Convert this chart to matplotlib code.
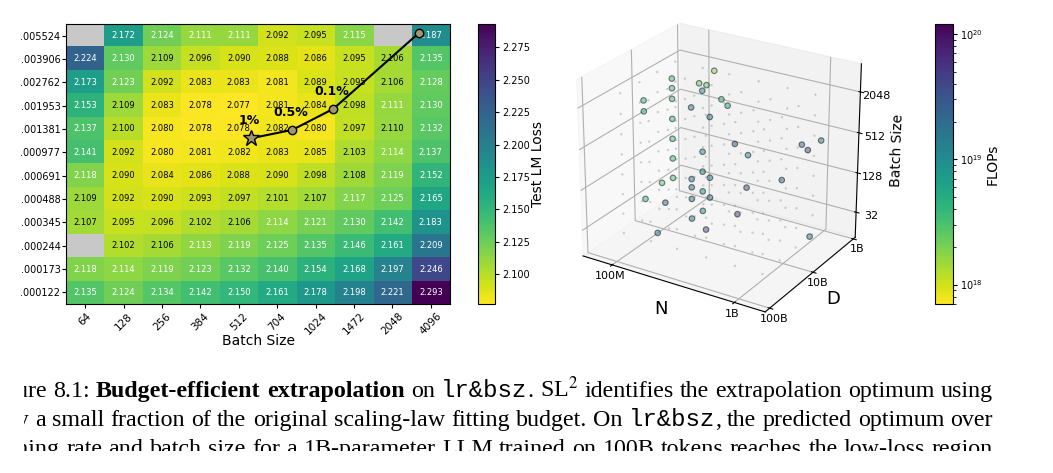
import numpy as np
import matplotlib
matplotlib.use("Agg")
import matplotlib.pyplot as plt
from matplotlib.colors import LogNorm
from matplotlib.cm import ScalarMappable
from matplotlib.patches import Rectangle

W, H = 1053, 473
plt.rcParams["mathtext.fontset"] = "stix"

# learning-rate x batch-size sweep, test LM loss
lr_values = [0.005524, 0.003906, 0.002762, 0.001953, 0.001381, 0.000977,
             0.000691, 0.000488, 0.000345, 0.000244, 0.000173, 0.000122]
lr_labels = [".005524", ".003906", ".002762", ".001953", ".001381", ".000977",
             ".000691", ".000488", ".000345", ".000244", ".000173", ".000122"]
bsz_values = [64, 128, 256, 384, 512, 704, 1024, 1472, 2048, 4096]
nan = np.nan
loss_rows = [
    [nan, 2.172, 2.124, 2.111, 2.111, 2.092, 2.095, 2.115, nan, 2.187],
    [2.224, 2.130, 2.109, 2.096, 2.090, 2.088, 2.086, 2.095, 2.106, 2.135],
    [2.173, 2.123, 2.092, 2.083, 2.083, 2.081, 2.089, 2.095, 2.106, 2.128],
    [2.153, 2.109, 2.083, 2.078, 2.077, 2.081, 2.084, 2.098, 2.111, 2.130],
    [2.137, 2.100, 2.080, 2.078, 2.078, 2.082, 2.080, 2.097, 2.110, 2.132],
    [2.141, 2.092, 2.080, 2.081, 2.082, 2.083, 2.085, 2.103, 2.114, 2.137],
    [2.118, 2.090, 2.084, 2.086, 2.088, 2.090, 2.098, 2.108, 2.119, 2.152],
    [2.109, 2.092, 2.090, 2.093, 2.097, 2.101, 2.107, 2.117, 2.125, 2.165],
    [2.107, 2.095, 2.096, 2.102, 2.106, 2.114, 2.121, 2.130, 2.142, 2.183],
    [nan, 2.102, 2.106, 2.113, 2.119, 2.125, 2.135, 2.146, 2.161, 2.209],
    [2.118, 2.114, 2.119, 2.123, 2.132, 2.140, 2.154, 2.168, 2.197, 2.246],
    [2.135, 2.124, 2.134, 2.142, 2.150, 2.161, 2.178, 2.198, 2.221, 2.293],
]

# predicted optimum for growing fractions of the fitting budget
path_bsz = [565, 815, 1210, 3330]
path_lr = [0.001202, 0.001362, 0.001861, 0.00578]
path_labels = ["1%", "0.5%", "0.1%", ""]

# all runs of the sweep (N params, D tokens, batch size)
grid_N = [70e6, 120e6, 200e6, 350e6, 600e6, 1.0e9]
grid_D = [2e9, 5e9, 12e9, 30e9]
grid_B = [16, 32, 64, 128, 256, 512, 1024, 2048]

# runs picked for the budget-efficient fit
sel_N = [100e6, 100e6, 100e6, 100e6, 100e6, 100e6, 100e6,
         70e6, 70e6, 70e6, 112e6, 80e6,
         200e6, 200e6, 200e6, 200e6, 200e6,
         200e6, 200e6, 200e6, 200e6, 200e6,
         250e6, 250e6, 250e6,
         150e6, 150e6, 200e6, 250e6, 130e6,
         1.2e9, 1.0e9, 1.0e9, 1.2e9, 700e6, 500e6, 500e6, 400e6, 400e6,
         300e6, 150e6]
sel_D = [6e9, 6e9, 6e9, 6e9, 6e9, 6e9, 6e9,
         10e9, 10e9, 10e9, 18e9, 6e9,
         14e9, 14e9, 14e9, 14e9, 14e9,
         8e9, 8e9, 8e9, 8e9, 8e9,
         10e9, 10e9, 10e9,
         2e9, 3e9, 3e9, 4e9, 3e9,
         2.4e9, 2.3e9, 4e9, 5e9, 4e9, 10e9, 16e9, 5e9, 10e9,
         20e9, 25e9]
sel_B = [2048, 1472, 1024, 512, 256, 128, 64,
         1024, 704, 32, 16, 48,
         1472, 128, 96, 64, 32,
         2048, 256, 128, 64, 32,
         1024, 128, 64,
         2048, 1472, 1024, 1024, 1472,
         512, 16, 512, 512, 128, 128, 64, 256, 512,
         32, 64]

loss = np.ma.masked_invalid(np.array(loss_rows))
fig = plt.figure(figsize=(W / 100, H / 100), dpi=100)


def fbox(x0, y0, x1, y1):
    # pixel box (from top-left) -> figure fraction rect
    return [x0 / W, 1 - y1 / H, (x1 - x0) / W, (y1 - y0) / H]


# ---------------- heatmap ----------------
ax = fig.add_axes(fbox(66, 24, 450, 304))
ax.set_facecolor("#c8c8c8")
vmin, vmax = loss.min(), loss.max()
im = ax.imshow(loss, cmap="viridis_r", vmin=vmin, vmax=vmax, aspect="auto",
               interpolation="nearest")
for i in range(loss.shape[0]):
    for j in range(loss.shape[1]):
        v = loss_rows[i][j]
        if np.isnan(v):
            continue
        ax.text(j, i, f"{v:.3f}", ha="center", va="center", fontsize=6,
                color="white" if v > 2.1105 else "black")
ax.set_xticks(range(len(bsz_values)))
ax.set_xticklabels([str(b) for b in bsz_values], rotation=45, fontsize=7.5)
ax.set_yticks(range(len(lr_values)))
ax.set_yticklabels(lr_labels, fontsize=7)
ax.tick_params(axis="y", length=3, pad=1)
ax.tick_params(axis="x", length=3, pad=2)
ax.set_xlabel("Batch Size", fontsize=10, labelpad=-2)

# budget path, mapped onto the cell grid
px = np.interp(np.log2(path_bsz), np.log2(bsz_values), np.arange(len(bsz_values)))
py = np.log(lr_values[0] / np.array(path_lr)) / np.log(lr_values[0] / lr_values[1])
ax.plot(px, py, color="black", lw=1.5, zorder=3)
ax.plot(px[1:], py[1:], "o", ms=6, mfc="#a4976f", mec="black", mew=1, zorder=4)
ax.plot(px[:1], py[:1], "*", ms=12, mfc="#a4976f", mec="black", mew=1, zorder=4)
for x, y, lab in zip(px, py, path_labels):
    if lab:
        ax.annotate(lab, (x, y), xytext=(-1, 8), textcoords="offset points",
                    ha="center", va="bottom", fontsize=9, fontweight="bold")
ax.set_xlim(-0.5, len(bsz_values) - 0.5)
ax.set_ylim(len(lr_values) - 0.5, -0.5)

cax = fig.add_axes(fbox(478, 24, 495, 304))
cb = fig.colorbar(im, cax=cax)
cb.set_ticks(np.arange(2.100, 2.2751, 0.025))
cb.ax.set_yticklabels([f"{t:.3f}" for t in np.arange(2.100, 2.2751, 0.025)])
cb.ax.tick_params(labelsize=7, length=3, pad=2)
cb.set_label("Test LM Loss", fontsize=10, labelpad=1)

# ---------------- 3D scatter ----------------
ax3 = fig.add_axes([0.514, 0.30, 0.332, 0.70], projection="3d")
ax3.view_init(elev=25, azim=-58)
ax3.set_box_aspect((4, 3.4, 3.6))
gN, gD, gB = np.meshgrid(grid_N, grid_D, grid_B, indexing="ij")
ax3.scatter(np.log10(gN.ravel()), np.log10(gD.ravel()), np.log2(gB.ravel()),
            s=3, c="gray", alpha=0.35, linewidths=0)
norm = LogNorm(vmin=7e17, vmax=1.2e20)
flops = 6 * np.array(sel_N) * np.array(sel_D)
ax3.scatter(np.log10(sel_N), np.log10(sel_D), np.log2(sel_B), c=flops,
            cmap="viridis_r", norm=norm, s=16, edgecolors="black",
            linewidths=0.8, alpha=0.5)
ax3.set_xlim(7.75, 9.24)
ax3.set_ylim(11.1, 8.95)
ax3.set_zlim(3.7, 12.35)
ax3.set_xticks([8, 9])
ax3.set_xticklabels(["100M", "1B"])
ax3.set_yticks([9, 10, 11])
ax3.set_yticklabels(["1B", "10B", "100B"])
ax3.set_zticks([5, 7, 9, 11])
ax3.set_zticklabels(["32", "128", "512", "2048"])
ax3.tick_params(axis="x", labelsize=8, pad=-5)
ax3.tick_params(axis="y", labelsize=8, pad=-5)
ax3.tick_params(axis="z", labelsize=8, pad=-1)
ax3.set_xlabel("N", fontsize=13, labelpad=-8)
ax3.set_ylabel("D", fontsize=13, labelpad=-7)
ax3.set_zlabel("Batch Size", fontsize=10, labelpad=-3)

cax2 = fig.add_axes(fbox(935, 24, 953, 304))
cb2 = fig.colorbar(ScalarMappable(norm=norm, cmap="viridis_r"), cax=cax2)
cb2.ax.tick_params(labelsize=7, length=3, pad=2)
cb2.set_label("FLOPs", fontsize=10, labelpad=2)

# ---------------- caption (cropped page) ----------------
SERIF = "Liberation Serif"
MONO = "Liberation Mono"
cap_lines = [
    ([("Figure 8.1:", "r"), ("Budget-efficient extrapolation", "b"),
      ("on", "r"), ("lr&bsz", "m"), ("+.", "r"),
      ("SL$^2$ identifies the extrapolation optimum using", "r")],
     "Figu", 28, 993, 397),
    ([("only a small fraction of the original scaling-law fitting budget. On", "r"),
      ("lr&bsz", "m"), ("+, the predicted optimum over", "r")],
     "only ", 35, 993, 426),
    ([("learning rate and batch size for a 1B-parameter LLM trained on 100B tokens "
       "reaches the low-loss region", "r")],
     "learn", 29, 993, 455),
]
fig.canvas.draw()
rend = fig.canvas.get_renderer()


def style(kind, size):
    if kind == "b":
        return dict(family=SERIF, size=size, weight="bold")
    if kind == "m":
        return dict(family=MONO, size=size)
    return dict(family=SERIF, size=size)


def width_of(s, kw):
    t = fig.text(0, 0, s, **kw)
    w = t.get_window_extent(rend).width
    t.remove()
    return w


def tokens_of(pieces):
    out = []
    for text, kind in pieces:
        glue = text.startswith("+")
        for k, word in enumerate(text.lstrip("+").split(" ")):
            out.append((word, kind, glue and k == 0))
    return out


# font size chosen so the first line fills its measure with normal spacing
base = 10.0
toks = tokens_of(cap_lines[0][0])
sp = width_of("a a", style("r", base)) - width_of("aa", style("r", base))
nat = sum(width_of(w, style(k, base)) for w, k, _ in toks)
ngap = sum(1 for i, t in enumerate(toks) if i > 0 and not t[2])
hid = width_of("Figu", style("r", base))
cap_size = base * (993 - 29) / (nat + ngap * sp - hid)

for pieces, hidden, x_vis, x_end, y_base in cap_lines:
    toks = tokens_of(pieces)
    widths = [width_of(w, style(k, cap_size)) for w, k, _ in toks]
    sp = width_of("a a", style("r", cap_size)) - width_of("aa", style("r", cap_size))
    x0 = x_vis - width_of(hidden.strip(), style("r", cap_size))
    if hidden.endswith(" "):
        x0 -= sp
    n_gaps = sum(1 for i, t in enumerate(toks) if i > 0 and not t[2])
    gap = (x_end - x0 - sum(widths)) / max(n_gaps, 1)
    x = x0
    for i, ((word, kind, glue), w) in enumerate(zip(toks, widths)):
        if i > 0 and not glue:
            x += gap
        fig.text(x / W, 1 - y_base / H, word, va="baseline", ha="left",
                 **style(kind, cap_size))
        x += w

# the page crop: white margin on the left and below the third caption line
fig.patches.append(Rectangle((0, 0), 1, 1 - 451 / H, transform=fig.transFigure,
                             facecolor="white", edgecolor="none", zorder=10))
fig.patches.append(Rectangle((0, 0), 24 / W, 1 - 360 / H, transform=fig.transFigure,
                             facecolor="white", edgecolor="none", zorder=10))

fig.savefig("out.png", dpi=100)
